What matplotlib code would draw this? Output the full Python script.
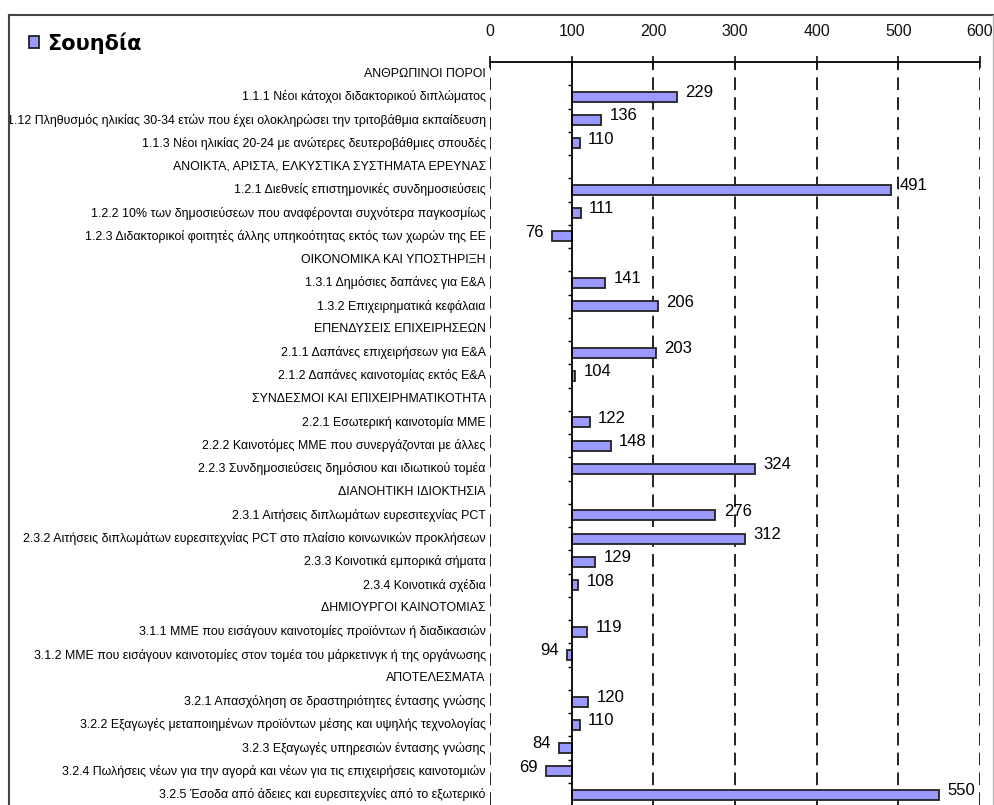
import numpy as np
from matplotlib import pyplot as plt
from matplotlib.lines import Line2D

labels = [
    'ΑΝΘΡΩΠΙΝΟΙ ΠΟΡΟΙ',
    '1.1.1 Νέοι κάτοχοι διδακτορικού διπλώματος',
    '1.12 Πληθυσμός ηλικίας 30-34 ετών που έχει ολοκληρώσει την τριτοβάθμια εκπαίδευση',
    '1.1.3 Νέοι ηλικίας 20-24 με ανώτερες δευτεροβάθμιες σπουδές',
    'ΑΝΟΙΚΤΑ, ΑΡΙΣΤΑ, ΕΛΚΥΣΤΙΚΑ ΣΥΣΤΗΜΑΤΑ ΕΡΕΥΝΑΣ',
    '1.2.1 Διεθνείς επιστημονικές συνδημοσιεύσεις',
    '1.2.2 10% των δημοσιεύσεων που αναφέρονται συχνότερα παγκοσμίως',
    '1.2.3 Διδακτορικοί φοιτητές άλλης υπηκοότητας εκτός των χωρών της ΕΕ',
    'ΟΙΚΟΝΟΜΙΚΑ ΚΑΙ ΥΠΟΣΤΗΡΙΞΗ',
    '1.3.1 Δημόσιες δαπάνες για Ε&Α',
    '1.3.2 Επιχειρηματικά κεφάλαια',
    'ΕΠΕΝΔΥΣΕΙΣ ΕΠΙΧΕΙΡΗΣΕΩΝ',
    '2.1.1 Δαπάνες επιχειρήσεων για Ε&Α',
    '2.1.2 Δαπάνες καινοτομίας εκτός Ε&Α',
    'ΣΥΝΔΕΣΜΟΙ ΚΑΙ ΕΠΙΧΕΙΡΗΜΑΤΙΚΟΤΗΤΑ',
    '2.2.1 Εσωτερική καινοτομία ΜΜΕ',
    '2.2.2 Καινοτόμες ΜΜΕ που συνεργάζονται με άλλες',
    '2.2.3 Συνδημοσιεύσεις δημόσιου και ιδιωτικού τομέα',
    'ΔΙΑΝΟΗΤΙΚΗ ΙΔΙΟΚΤΗΣΙΑ',
    '2.3.1 Αιτήσεις διπλωμάτων ευρεσιτεχνίας PCT',
    '2.3.2 Αιτήσεις διπλωμάτων ευρεσιτεχνίας PCT στο πλαίσιο κοινωνικών προκλήσεων',
    '2.3.3 Κοινοτικά εμπορικά σήματα',
    '2.3.4 Κοινοτικά σχέδια',
    'ΔΗΜΙΟΥΡΓΟΙ ΚΑΙΝΟΤΟΜΙΑΣ',
    '3.1.1 ΜΜΕ που εισάγουν καινοτομίες προϊόντων ή διαδικασιών',
    '3.1.2 ΜΜΕ που εισάγουν καινοτομίες στον τομέα του μάρκετινγκ ή της οργάνωσης',
    'ΑΠΟΤΕΛΕΣΜΑΤΑ',
    '3.2.1 Απασχόληση σε δραστηριότητες έντασης γνώσης',
    '3.2.2 Εξαγωγές μεταποιημένων προϊόντων μέσης και υψηλής τεχνολογίας',
    '3.2.3 Εξαγωγές υπηρεσιών έντασης γνώσης',
    '3.2.4 Πωλήσεις νέων για την αγορά και νέων για τις επιχειρήσεις καινοτομιών',
    '3.2.5 Έσοδα από άδειες και ευρεσιτεχνίες από το εξωτερικό',
]
# None = section header row (no bar)
values = [None, 229, 136, 110,
          None, 491, 111, 76,
          None, 141, 206,
          None, 203, 104,
          None, 122, 148, 324,
          None, 276, 312, 129, 108,
          None, 119, 94,
          None, 120, 110, 84, 69, 550]
country = 'Σουηδία'
base = 100
xticks = [0, 100, 200, 300, 400, 500, 600]

plt.rcParams['font.family'] = ['Liberation Sans', 'DejaVu Sans']

W, H = 995, 805
fig = plt.figure(figsize=(W / 100, H / 100), dpi=100)
ax = fig.add_axes([490 / W, 0, (980 - 490) / W, 1 - 62 / H])

y = np.arange(len(labels))
vals = np.array([np.nan if v is None else v for v in values], dtype=float)
bars = ax.barh(y, vals - base, left=base, height=0.43, color='#9999ff',
               edgecolor='#222222', linewidth=1.3, label=country)

ax.set_xlim(0, 600)
ax.set_ylim(31.45, -0.5)

# value labels
for i, v in enumerate(values):
    if v is None:
        continue
    right = v >= base
    ax.annotate(str(v), (v, i), xytext=(6 if right else -6, 3),
                textcoords='offset points', ha='left' if right else 'right',
                va='center', fontsize=12)

# category labels, right-aligned at x = 0
for i, lab in enumerate(labels):
    ax.annotate(lab, (0, i), xytext=(-3, 0), textcoords='offset points',
                ha='right', va='center', fontsize=8.9, annotation_clip=False)

# dashed gridlines
for xv in xticks:
    if xv != base:
        ax.axvline(xv, color='#111111', linestyle=(0, (7, 4)), linewidth=1.3,
                   zorder=0.5)

ax.xaxis.tick_top()
ax.set_xticks(xticks)
ax.tick_params(axis='x', direction='inout', length=9, width=1.2, pad=12,
               labelsize=11.5, colors='#111111')
ax.spines['top'].set_linewidth(1.3)
ax.spines['right'].set_visible(False)
ax.spines['bottom'].set_visible(False)
ax.spines['left'].set_position(('data', base))
ax.spines['left'].set_linewidth(1.3)
ax.set_yticks(np.arange(len(labels) - 1) + 0.5)
ax.set_yticklabels([])
ax.tick_params(axis='y', direction='out', length=3, width=1)

fig.legend(handles=[bars], loc='center left',
           bbox_to_anchor=(29 / W, 1 - 43 / H), frameon=False,
           prop={'family': 'DejaVu Sans', 'weight': 'bold', 'size': 15},
           handlelength=0.5, handleheight=0.5, handletextpad=0.35,
           borderpad=0, borderaxespad=0)

# outer frame
fig.add_artist(Line2D([8.5 / W, 993 / W], [1 - 15 / H, 1 - 15 / H],
                      transform=fig.transFigure, color='#444444', lw=1.5))
fig.add_artist(Line2D([8.5 / W, 8.5 / W], [0, 1 - 15 / H],
                      transform=fig.transFigure, color='#444444', lw=1.5))
fig.add_artist(Line2D([993 / W, 993 / W], [0, 1 - 15 / H],
                      transform=fig.transFigure, color='#bbbbbb', lw=1))

fig.savefig('out.png', dpi=100)
